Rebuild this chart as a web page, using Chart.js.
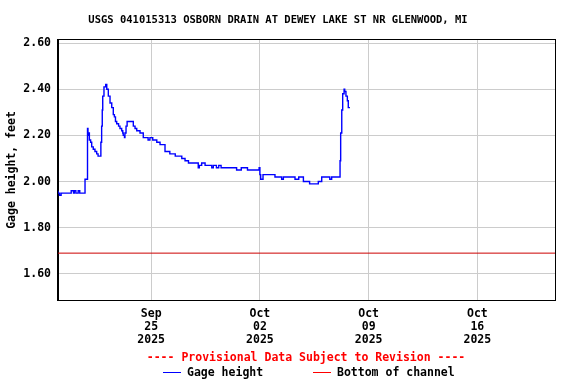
<!DOCTYPE html>
<html>
<head>
<meta charset="utf-8">
<script src="https://cdn.jsdelivr.net/npm/chart.js@4.4.1/dist/chart.umd.min.js"></script>
<style>
  html, body { margin: 0; padding: 0; background: #fff; }
  #wrap { width: 576px; height: 384px; }
</style>
</head>
<body>
<div id="wrap"><canvas id="gageChart" width="576" height="384"></canvas></div>
<script>
// days since Sep 19 2025 00:00
const days = [
    0.00, 0.10, 0.20, 0.30, 0.85, 0.88, 1.00, 1.05, 1.15, 1.30, 1.40, 1.55, 1.74, 1.76, 1.90,
    1.93, 1.97, 2.02, 2.10, 2.17, 2.27, 2.38, 2.49, 2.58, 2.62, 2.76, 2.81, 2.85, 2.88, 2.96,
    3.07, 3.14, 3.24, 3.35, 3.46, 3.56, 3.63, 3.70, 3.78, 3.90, 3.99, 4.10, 4.17, 4.20, 4.28,
    4.31, 4.38, 4.45, 4.53, 4.85, 4.96, 5.07, 5.28, 5.49, 5.67, 5.80, 5.92, 6.10, 6.36, 6.57,
    6.80, 6.89, 7.00, 7.20, 7.30, 7.55, 7.64, 7.97, 8.05, 8.18, 8.40, 8.50, 9.03, 9.10, 9.25,
    9.47, 9.60, 9.90, 10.00, 10.20, 10.35, 10.50, 10.80, 11.00, 11.25, 11.50, 11.60, 11.80, 11.90, 12.20,
    12.30, 12.60, 12.95, 13.00, 13.05, 13.10, 13.20, 13.25, 13.97, 14.05, 14.40, 14.51, 14.83, 15.26, 15.50,
    15.60, 15.80, 16.01, 16.20, 16.44, 16.76, 16.98, 17.08, 17.50, 17.62, 17.84, 18.10, 18.16, 18.20, 18.27,
    18.33, 18.42, 18.46, 18.54, 18.63, 18.69, 18.80
];
const gage = [
    1.96, 1.95, 1.94, 1.95, 1.95, 1.96, 1.96, 1.95, 1.96, 1.95, 1.96, 1.95, 1.95, 2.01, 2.01,
    2.23, 2.20, 2.21, 2.18, 2.17, 2.15, 2.14, 2.13, 2.12, 2.11, 2.11, 2.17, 2.24, 2.31, 2.37,
    2.41, 2.42, 2.40, 2.37, 2.34, 2.32, 2.29, 2.28, 2.26, 2.25, 2.24, 2.23, 2.22, 2.21, 2.20,
    2.19, 2.21, 2.24, 2.26, 2.26, 2.24, 2.23, 2.22, 2.21, 2.19, 2.19, 2.18, 2.19, 2.18, 2.17,
    2.16, 2.16, 2.13, 2.13, 2.12, 2.12, 2.11, 2.11, 2.10, 2.10, 2.09, 2.08, 2.08, 2.06, 2.07,
    2.08, 2.07, 2.07, 2.06, 2.07, 2.06, 2.07, 2.06, 2.06, 2.06, 2.06, 2.05, 2.05, 2.06, 2.06,
    2.05, 2.05, 2.05, 2.06, 2.03, 2.01, 2.01, 2.03, 2.03, 2.02, 2.02, 2.01, 2.02, 2.02, 2.01,
    2.02, 2.02, 2.00, 2.00, 1.99, 1.99, 2.00, 2.02, 2.02, 2.01, 2.02, 2.02, 2.02, 2.09, 2.21,
    2.31, 2.38, 2.40, 2.39, 2.37, 2.35, 2.32
];
const channelBottom = 1.69;

const xTickDays = [6, 13, 20, 27];
const xTickLabels = [
    ['Sep', '25', '2025'],
    ['Oct', '02', '2025'],
    ['Oct', '09', '2025'],
    ['Oct', '16', '2025']
];
const yTicks = [1.6, 1.8, 2.0, 2.2, 2.4, 2.6];

const titleText = 'USGS 041015313 OSBORN DRAIN AT DEWEY LAKE ST NR GLENWOOD, MI';
const provisionalText = '---- Provisional Data Subject to Revision ----';
const seriesNames = ['Gage height', 'Bottom of channel'];

const mono = '"DejaVu Sans Mono", "Liberation Mono", monospace';

const extras = {
    id: 'extras',
    afterDraw(chart) {
        const ctx = chart.ctx;
        const a = chart.chartArea;
        ctx.save();
        // plot frame
        ctx.strokeStyle = '#000';
        ctx.lineWidth = 1;
        ctx.strokeRect(Math.round(a.left) - 0.5, Math.round(a.top) - 0.5,
            Math.round(a.right - a.left) + 1, Math.round(a.bottom - a.top) + 1);

        ctx.textBaseline = 'middle';
        ctx.fillStyle = '#000';
        ctx.font = 'bold 10.5px ' + mono;
        ctx.textAlign = 'center';
        ctx.fillText(titleText, 278, 20);

        ctx.fillStyle = '#ff0000';
        ctx.font = 'bold 11.5px ' + mono;
        ctx.fillText(provisionalText, 306, 358);

        // legend
        ctx.textAlign = 'left';
        ctx.lineWidth = 1;
        ctx.strokeStyle = '#0000ff';
        ctx.beginPath(); ctx.moveTo(163, 372.5); ctx.lineTo(181, 372.5); ctx.stroke();
        ctx.fillStyle = '#000';
        ctx.fillText(seriesNames[0], 187, 373);
        ctx.strokeStyle = '#ff0000';
        ctx.beginPath(); ctx.moveTo(313, 372.5); ctx.lineTo(331, 372.5); ctx.stroke();
        ctx.fillText(seriesNames[1], 337, 373);
        ctx.restore();
    }
};

const ctx = document.getElementById('gageChart').getContext('2d');
const gageChart = new Chart(ctx, {
    type: 'line',
    data: {
        datasets: [
            {
                label: seriesNames[0],
                data: days.map((d, i) => ({ x: d, y: gage[i] })),
                borderColor: '#0000ff',
                borderWidth: 1.4,
                pointRadius: 0,
                fill: false,
                stepped: 'after'
            },
            {
                label: seriesNames[1],
                data: [{ x: 0, y: channelBottom }, { x: 32, y: channelBottom }],
                borderColor: '#cc0000',
                borderWidth: 1,
                pointRadius: 0,
                fill: false
            }
        ]
    },
    options: {
        responsive: false,
        animation: false,
        layout: { padding: { top: 40, right: 21, bottom: 34, left: 0 } },
        plugins: {
            legend: { display: false },
            tooltip: { enabled: false }
        },
        scales: {
            x: {
                type: 'linear',
                min: 0,
                max: 32,
                afterBuildTicks: scale => { scale.ticks = xTickDays.map(v => ({ value: v })); },
                afterFit: scale => { scale.height = 50; },
                grid: { color: '#cccccc', drawTicks: false },
                border: { color: '#000', width: 1 },
                ticks: {
                    padding: 7,
                    maxRotation: 0,
                    autoSkip: false,
                    color: '#000',
                    font: { family: mono, size: 11.5, weight: 'bold', lineHeight: 1.15 },
                    callback: (v) => {
                        const i = xTickDays.indexOf(v);
                        return i >= 0 ? xTickLabels[i] : '';
                    }
                }
            },
            y: {
                min: 1.487,
                max: 2.613,
                afterBuildTicks: scale => { scale.ticks = yTicks.map(v => ({ value: v })); },
                afterFit: scale => { scale.width = 58; },
                grid: { color: '#cccccc', drawTicks: false },
                border: { color: '#000', width: 1 },
                title: {
                    display: true,
                    text: 'Gage height, feet',
                    color: '#000',
                    font: { family: mono, size: 11.5, weight: 'bold' },
                    padding: { top: 5, bottom: 0 }
                },
                ticks: {
                    padding: 7,
                    color: '#000',
                    font: { family: mono, size: 11.5, weight: 'bold' },
                    callback: v => v.toFixed(2)
                }
            }
        }
    },
    plugins: [extras]
});
</script>
</body>
</html>
